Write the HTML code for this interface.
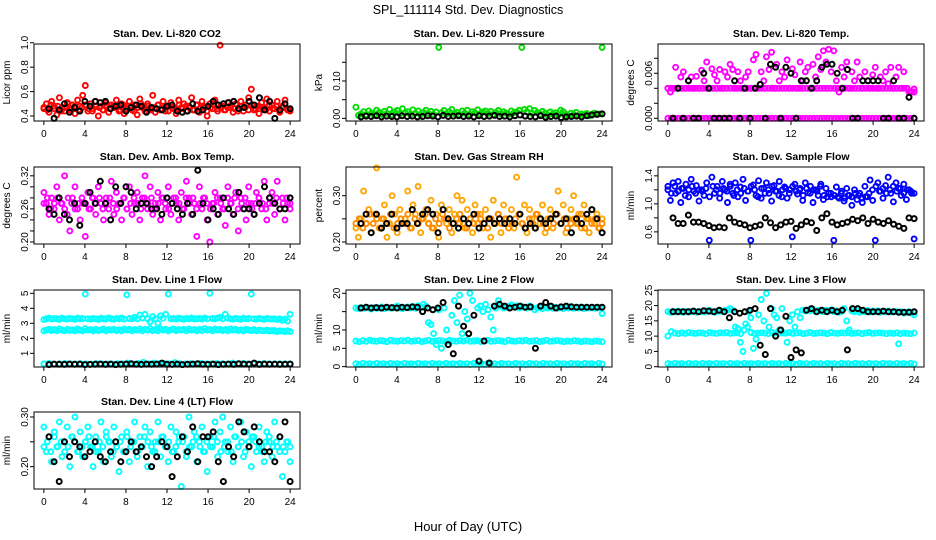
<!DOCTYPE html>
<html><head><meta charset="utf-8"><style>
html,body{margin:0;padding:0;background:#fff}
svg{display:block;font-family:"Liberation Sans",sans-serif}
</style></head><body>
<svg id="chart" width="936" height="540" viewBox="0 0 936 540" xmlns="http://www.w3.org/2000/svg">
<rect width="936" height="540" fill="#fff"/>
<text x="468" y="14" font-size="12.5" text-anchor="middle">SPL_111114  Std. Dev. Diagnostics</text>
<text x="468" y="531" font-size="13" text-anchor="middle">Hour of Day (UTC)</text>
</svg>
<script>
const hourTicks=[0,4,8,12,16,20,24];
const co2Red=[0.46,0.50,0.43,0.52,0.48,0.41,0.55,0.47,0.44,0.51,0.45,0.49,0.42,0.53,0.48,0.57,0.65,0.44,0.50,0.46,0.52,0.40,0.48,0.45,0.51,0.43,0.49,0.47,0.53,0.44,0.50,0.42,0.48,0.52,0.45,0.49,0.41,0.54,0.47,0.44,0.50,0.46,0.57,0.43,0.49,0.45,0.52,0.48,0.44,0.51,0.46,0.42,0.53,0.47,0.50,0.44,0.48,0.55,0.45,0.49,0.43,0.52,0.47,0.40,0.50,0.46,0.53,0.44,0.98,0.48,0.45,0.51,0.47,0.43,0.50,0.46,0.52,0.44,0.49,0.55,0.62,0.45,0.48,0.42,0.51,0.47,0.54,0.44,0.49,0.46,0.52,0.43,0.48,0.53,0.45,0.44];
const co2Red2=[0.47,0.45,0.49,0.46,0.48,0.44,0.47,0.50,0.46,0.48,0.45,0.47,0.49,0.46,0.44,0.48,0.47,0.45,0.49,0.46,0.48,0.47,0.45,0.49,0.46,0.48,0.44,0.47,0.50,0.46,0.48,0.45,0.47,0.49,0.46,0.44,0.48,0.47,0.45,0.49,0.46,0.48,0.47,0.45,0.49,0.46,0.48,0.44,0.47,0.50,0.46,0.48,0.45,0.47,0.49,0.46,0.44,0.48,0.47,0.45,0.49,0.46,0.48,0.47,0.45,0.49,0.46,0.48,0.44,0.47,0.46,0.45];
const co2Black=[0.46,0.38,0.45,0.50,0.43,0.47,0.44,0.52,0.48,0.52,0.51,0.52,0.46,0.48,0.49,0.44,0.47,0.49,0.48,0.43,0.47,0.46,0.45,0.48,0.49,0.44,0.43,0.44,0.50,0.44,0.45,0.48,0.52,0.49,0.50,0.51,0.52,0.46,0.47,0.52,0.49,0.55,0.45,0.52,0.38,0.45,0.50,0.46];
const pressGreen=[0.030,0.008,0.012,0.018,0.010,0.020,0.014,0.009,0.022,0.016,0.011,0.019,0.013,0.024,0.010,0.017,0.021,0.012,0.026,0.015,0.018,0.011,0.023,0.014,0.020,0.010,0.016,0.022,0.013,0.019,0.011,0.017,0.190,0.015,0.021,0.012,0.018,0.024,0.013,0.016,0.010,0.020,0.014,0.022,0.011,0.018,0.015,0.023,0.012,0.017,0.020,0.013,0.019,0.010,0.016,0.021,0.012,0.018,0.014,0.011,0.020,0.015,0.017,0.022,0.190,0.024,0.018,0.026,0.013,0.021,0.016,0.011,0.019,0.014,0.008,0.017,0.012,0.015,0.009,0.022,0.018,0.011,0.006,0.014,0.010,0.016,0.008,0.012,0.009,0.013,0.007,0.011,0.014,0.010,0.012,0.190];
const pressBlack=[0.004,0.006,0.005,0.007,0.004,0.006,0.005,0.004,0.007,0.005,0.006,0.004,0.005,0.007,0.006,0.004,0.008,0.005,0.006,0.007,0.005,0.006,0.004,0.007,0.005,0.006,0.008,0.005,0.006,0.004,0.007,0.009,0.006,0.005,0.004,0.007,0.003,0.005,0.006,0.002,0.004,0.005,0.006,0.004,0.007,0.009,0.011,0.012];
const tempHi=[0.004,0.0035,0.004,0.0068,0.004,0.0055,0.0062,0.004,0.005,0.0055,0.004,0.0056,0.004,0.0064,0.005,0.0075,0.004,0.0066,0.0058,0.005,0.0065,0.004,0.0062,0.0055,0.0072,0.0065,0.004,0.0062,0.005,0.004,0.0055,0.0062,0.004,0.0078,0.0085,0.004,0.0062,0.005,0.0082,0.0065,0.0088,0.004,0.0072,0.005,0.0062,0.0055,0.0078,0.004,0.0066,0.0058,0.004,0.0075,0.005,0.0062,0.0068,0.004,0.0072,0.0055,0.0082,0.0065,0.009,0.0075,0.0092,0.0062,0.009,0.005,0.0035,0.0068,0.0055,0.0075,0.004,0.0062,0.005,0.0075,0.0055,0.004,0.0062,0.005,0.004,0.0058,0.0068,0.004,0.0055,0.005,0.0062,0.0046,0.0068,0.004,0.0055,0.0068,0.004,0.0062,0.004,0.0035,0.0035,0.0039];
const tempMid=[0.004,0.004,0.004,0.004,0.004,0.004,0.004,0.004,0.004,0.004,0.004,0.004,0.004,0.004,0.004,0.004,0.004,0.004,0.004,0.004,0.004,0.004,0.004,0.004,0.004,0.004,0.004,0.004,0.004,0.004,0.004,0.004,0.004,0.004,0.004,0.004,0.004,0.004,0.004,0.004,0.004,0.004,0.004,0.004,0.004,0.004,0.004,0.004,0.004,0.004,0.004,0.004,0.004,0.004,0.004,0.004,0.004,0.004,0.004,0.004,0.004,0.004,0.004,0.004,0.004,0.004,0.004,0.004,0.004,0.004,0.0035,0.0035];
const tempLo=[0,0,0,0,0,0,0,0,0,0,0,0,0,0,0,0,0,0,0,0,0,0,0,0,0,0,0,0,0,0,0,0,0,0,0,0,0,0,0,0,0,0,0,0,0,0,0,0,0,0,0,0,0,0,0,0,0,0,0,0,0,0,0,0,0,0,0,0,0,0,0,0];
const tempBlack=[0,0.004,0,0.005,0,0,0.006,0.004,0,0,0,0,0.005,0,0.004,0,0.004,0.0045,0,0.0072,0.0068,0,0.0068,0.006,0,0.005,0.005,0.004,0.005,0.0068,0.0072,0.0072,0.006,0.004,0.0065,0,0,0.005,0.005,0.005,0.005,0,0,0.005,0,0,0.0028,0];
const ambMag=[0.29,0.27,0.25,0.28,0.26,0.30,0.24,0.27,0.32,0.25,0.22,0.28,0.30,0.26,0.24,0.27,0.21,0.29,0.26,0.28,0.25,0.30,0.27,0.24,0.28,0.26,0.31,0.25,0.29,0.27,0.24,0.28,0.26,0.30,0.25,0.27,0.29,0.24,0.28,0.32,0.26,0.30,0.25,0.27,0.29,0.24,0.28,0.26,0.30,0.25,0.28,0.27,0.24,0.29,0.26,0.31,0.28,0.25,0.27,0.21,0.30,0.26,0.28,0.24,0.20,0.27,0.29,0.25,0.28,0.26,0.23,0.30,0.27,0.25,0.29,0.22,0.28,0.26,0.24,0.30,0.27,0.25,0.29,0.28,0.26,0.31,0.24,0.27,0.29,0.25,0.31,0.26,0.28,0.24,0.27,0.26];
const ambMag2=[0.27,0.28,0.26,0.27,0.28,0.27,0.26,0.28,0.27,0.26,0.27,0.28,0.27,0.26,0.28,0.27,0.28,0.26,0.27,0.28,0.27,0.26,0.27,0.28,0.26,0.27,0.28,0.27,0.26,0.28,0.27,0.28,0.26,0.27,0.28,0.27,0.26,0.27,0.28,0.27,0.26,0.28,0.27,0.28,0.26,0.27,0.28,0.27,0.26,0.27,0.28,0.27,0.26,0.28,0.27,0.28,0.26,0.27,0.28,0.27,0.26,0.27,0.28,0.27,0.26,0.28,0.27,0.28,0.26,0.27,0.28,0.27];
const ambBlack=[0.26,0.25,0.28,0.25,0.24,0.27,0.23,0.27,0.29,0.27,0.31,0.27,0.24,0.30,0.27,0.30,0.29,0.26,0.27,0.27,0.26,0.26,0.25,0.28,0.27,0.26,0.25,0.27,0.25,0.33,0.27,0.24,0.26,0.25,0.28,0.26,0.25,0.29,0.26,0.26,0.25,0.27,0.30,0.28,0.27,0.26,0.26,0.28];
const rhOrange=[0.23,0.21,0.25,0.31,0.24,0.27,0.22,0.26,0.36,0.23,0.25,0.28,0.21,0.24,0.30,0.26,0.22,0.27,0.24,0.25,0.31,0.23,0.28,0.26,0.32,0.22,0.25,0.27,0.24,0.29,0.23,0.26,0.21,0.28,0.25,0.24,0.27,0.22,0.26,0.30,0.24,0.29,0.23,0.27,0.25,0.22,0.28,0.24,0.26,0.23,0.27,0.25,0.21,0.29,0.24,0.26,0.22,0.28,0.25,0.24,0.27,0.23,0.34,0.26,0.24,0.28,0.22,0.27,0.25,0.23,0.26,0.24,0.28,0.22,0.25,0.27,0.23,0.26,0.31,0.24,0.28,0.22,0.25,0.27,0.30,0.24,0.26,0.23,0.28,0.25,0.22,0.27,0.24,0.26,0.23,0.25];
const rhOrange2=[0.24,0.25,0.23,0.24,0.26,0.24,0.25,0.23,0.25,0.24,0.26,0.23,0.24,0.25,0.24,0.26,0.23,0.25,0.24,0.25,0.26,0.24,0.23,0.25,0.24,0.26,0.25,0.23,0.24,0.25,0.26,0.24,0.23,0.25,0.24,0.26,0.25,0.24,0.23,0.25,0.24,0.26,0.24,0.25,0.23,0.24,0.25,0.26,0.24,0.23,0.25,0.24,0.26,0.25,0.24,0.23,0.25,0.24,0.26,0.24,0.25,0.23,0.24,0.25,0.24,0.26,0.23,0.25,0.24,0.25,0.23,0.24];
const rhBlack=[0.24,0.26,0.22,0.26,0.23,0.24,0.26,0.23,0.24,0.24,0.27,0.24,0.26,0.27,0.26,0.22,0.27,0.25,0.24,0.23,0.25,0.24,0.26,0.23,0.24,0.25,0.24,0.25,0.24,0.25,0.24,0.26,0.23,0.24,0.23,0.25,0.24,0.25,0.26,0.24,0.25,0.22,0.25,0.24,0.26,0.27,0.25,0.22];
const flowBlue=[1.25,1.05,1.30,1.15,1.32,1.02,1.22,1.28,1.10,1.35,1.18,1.26,1.04,1.20,1.12,1.30,0.48,1.38,1.15,1.25,1.08,1.32,1.20,1.02,1.28,1.15,1.30,1.10,1.24,1.35,1.05,1.18,0.48,1.27,1.12,1.33,1.08,1.22,1.30,1.15,1.04,1.26,1.18,1.32,1.10,1.24,1.08,1.20,0.53,1.28,1.14,1.22,1.05,1.30,1.16,1.25,1.02,1.20,1.12,1.28,1.06,1.22,1.15,1.10,0.48,1.24,1.08,1.18,1.04,1.22,1.12,0.98,1.20,1.06,1.15,1.02,1.25,1.10,1.34,1.05,0.48,1.30,1.18,1.08,1.26,1.38,1.15,1.03,1.30,1.22,1.12,1.28,1.06,1.20,1.15,0.50];
const flowBlue2=[1.2,1.15,1.25,1.18,1.22,1.12,1.2,1.25,1.15,1.2,1.18,1.22,1.1,1.25,1.2,1.15,1.22,1.18,1.25,1.12,1.2,1.15,1.22,1.18,1.25,1.2,1.1,1.22,1.15,1.2,1.25,1.18,1.12,1.2,1.22,1.15,1.25,1.18,1.2,1.12,1.22,1.15,1.2,1.18,1.25,1.12,1.1,1.15,1.12,1.1,1.15,1.08,1.12,1.1,1.15,1.12,1.08,1.1,1.15,1.2,1.25,1.18,1.22,1.15,1.2,1.25,1.18,1.22,1.15,1.2,1.18,1.15];
const flowBlack=[0.80,0.72,0.72,0.84,0.74,0.74,0.72,0.69,0.66,0.67,0.66,0.80,0.74,0.72,0.70,0.66,0.68,0.70,0.80,0.73,0.66,0.70,0.74,0.75,0.65,0.70,0.75,0.73,0.62,0.80,0.86,0.74,0.70,0.72,0.74,0.78,0.76,0.80,0.72,0.78,0.74,0.72,0.76,0.71,0.68,0.65,0.80,0.79];
const l1Top=[3.25,3.3,3.35,3.28,3.32,3.3,3.26,3.34,3.3,3.28,3.33,3.3,3.27,3.35,3.3,3.32,4.95,3.3,3.28,3.33,3.3,3.26,3.34,3.3,3.29,3.36,3.3,3.27,3.33,3.3,3.35,3.28,4.9,3.32,3.3,3.4,3.3,3.55,3.35,3.6,3.3,3.1,3.45,3.3,3.0,3.5,3.35,3.6,4.95,3.3,3.32,3.28,3.35,3.3,3.27,3.33,3.3,3.36,3.29,3.3,3.32,3.28,3.35,3.3,5.0,3.32,3.3,3.35,3.4,3.3,3.6,3.35,3.3,3.28,3.33,3.3,3.27,3.34,3.3,3.32,4.95,3.3,3.28,3.33,3.3,3.26,3.32,3.3,3.28,3.3,3.25,3.3,3.2,3.28,3.15,3.6];
const l1Mid=[2.5,2.55,2.6,2.52,2.58,2.5,2.62,2.55,2.5,2.6,2.53,2.57,2.5,2.62,2.55,2.5,2.65,2.55,2.58,2.5,2.6,2.52,2.56,2.62,2.5,2.58,2.55,2.6,2.52,2.57,2.5,2.62,2.55,2.6,2.5,2.58,2.54,2.62,2.5,2.6,2.55,2.65,2.52,2.58,2.5,2.62,2.55,2.6,2.5,2.57,2.62,2.52,2.58,2.55,2.6,2.5,2.62,2.55,2.58,2.5,2.6,2.52,2.65,2.55,2.58,2.5,2.62,2.55,2.6,2.52,2.58,2.5,2.62,2.55,2.6,2.52,2.57,2.5,2.6,2.55,2.52,2.58,2.5,2.55,2.52,2.5,2.55,2.48,2.52,2.5,2.45,2.5,2.48,2.45,2.5,2.45];
const l1Low=[0.3,0.32,0.28,0.3,0.33,0.3,0.29,0.31,0.3,0.28,0.32,0.3,0.3,0.29,0.31,0.3,0.35,0.3,0.32,0.4,0.3,0.35,0.3,0.32,0.3,0.38,0.3,0.29,0.31,0.3,0.32,0.3,0.3,0.33,0.3,0.29,0.35,0.3,0.32,0.3,0.31,0.3,0.33,0.3,0.29,0.31,0.3,0.3];
const l1Black=[0.25,0.28,0.27,0.26,0.28,0.27,0.28,0.25,0.26,0.27,0.28,0.26,0.28,0.25,0.27,0.28,0.3,0.27,0.26,0.28,0.27,0.28,0.35,0.27,0.26,0.28,0.25,0.27,0.28,0.3,0.27,0.26,0.28,0.25,0.27,0.28,0.26,0.3,0.28,0.27,0.35,0.26,0.28,0.27,0.28,0.26,0.27,0.28];
const l2Top=[16,15.8,16.1,15.9,16.2,16,15.7,16.1,15.9,16,16.3,15.8,16.1,16,15.9,16.2,16.5,16,15.8,16.1,16.3,16,16.4,15.9,16.6,16.2,17,16.5,12,11.5,9,6,15.5,5,16,10,7,14,18,12,19.5,9,15,13,20,18,7,16,16.5,15,17,15.5,13.5,10,16,18,16.5,16,16.2,16.5,16.8,16.3,16.6,16,16.4,16.2,16,16.5,16.2,15.5,16,16.3,15.8,16.1,16,16.4,15.9,16.2,16,16.3,15.8,16.1,16,16.4,15.9,16.2,16,16.3,15.8,16.1,16,16.2,15.9,16,16.1,14.5];
const l2Mid=[7,6.8,7.1,6.9,7.2,7,6.9,7.1,7,6.8,7.2,7,6.9,7.1,7,7.2,6.9,7,7.1,6.8,7,7.2,6.9,7,7.1,7,6.8,7.2,7,6.9,7.1,7,7.2,6.9,7,7.1,6.8,7,7.2,6.9,7,7.1,7,6.8,7.2,7,6.9,7.1,7,7.2,6.9,7,7.1,6.8,7,7.2,6.9,7,7.1,7,6.8,7,6.9,7.1,7,6.8,7,6.9,6.8,7,6.9,6.8];
const l2Low=[0.8,0.6,0.9,0.7,0.8,0.6,0.9,0.7,0.8,0.6,0.9,0.7,0.8,0.6,0.9,0.7,0.8,0.6,0.9,0.7,0.8,0.6,0.9,0.7,0.8,0.6,0.9,0.7,0.8,0.6,0.9,0.7,0.8,0.6,0.9,0.7,0.8,0.6,0.9,0.7,0.8,0.6,0.9,0.7,0.8,0.6,0.9,0.7,0.8,0.6,0.9,0.7,0.8,0.6,0.9,0.7,0.8,0.6,0.9,0.7,0.8,0.6,0.9,0.7,0.8,0.6,0.9,0.7,0.8,0.6,0.9,0.7];
const l2Black=[16,16.2,16,16.1,16,16.2,16.1,16,16.2,16.1,16.3,16.2,15,16,15.5,16,17.5,6,3.5,16.5,11,9,14,1.5,7,1,16.5,17,16.5,16,16.2,16.5,16.2,16.3,5,16.5,17.5,16.5,16,16.3,16.5,16.3,16.2,16.2,16.2,16.2,16.2,16.2];
const l3Top=[18,17.8,18.1,17.9,18.2,18,17.8,18.1,17.9,18,18.2,17.8,18.1,18,17.9,18.2,18.5,18,17.8,18.1,18.3,18,18.4,18.6,19,18.5,13,12.5,8,5,14,18,16,6,9,17,22,15,24,13,19,17,16,12,19,11,8,15,17,13,18,16,18.5,18.2,18.6,18.3,18.8,18,18.4,18.2,18,18.5,18.2,18.6,18,18.3,17.8,18.1,19,15,12,18.2,18,18.3,17.8,18.1,18,18.4,17.9,18.2,18,18.3,17.8,18.1,18,18.2,17.9,18,18.1,7.5,18,17.5,17.8,18,17.5,17];
const l3Mid=[10,11.5,11,10.8,11.1,10.9,11.2,11,10.9,11.1,11,10.8,11.2,11,10.9,11.1,11,11.2,10.9,11,11.1,10.8,12,13,11.2,10.9,11,11.1,11,10.8,11.2,11,10.9,11.1,11,11.2,10.9,11,11.1,10.8,11,11.2,10.9,11,11.1,11,10.8,11.2,11,10.9,11.1,11,11.2,10.9,11,11.1,10.8,11,11.2,10.9,11,11.1,11,10.8,11,10.9,11.1,10.8,11,10.9,10.8,11];
const l3Low=[1,0.8,1.1,0.9,1,0.8,1.1,0.9,1,0.8,1.1,0.9,1,0.8,1.1,0.9,1,0.8,1.1,0.9,1,0.8,1.1,0.9,1,0.8,1.1,0.9,1,0.8,1.1,0.9,1,0.8,1.1,0.9,1,0.8,1.1,0.9,1,0.8,1.1,0.9,1,0.8,1.1,0.9,1,0.8,1.1,0.9,1,0.8,1.1,0.9,1,0.8,1.1,0.9,1,0.8,1.1,0.9,1,0.8,1.1,0.9,1,0.8,1.1,0.9];
const l3Black=[18,18,18,18,18.2,18,18.3,18.2,18,18.5,18,16,18,17.5,18,18.5,19,7,4,19,10,12,16.5,3,5.5,4.5,18.5,19,18,18.5,18,18.5,18,18.5,5.5,19,19,18.5,18,18,18,18.2,18,18,17.8,17.8,17.8,18];
const l4Cyan=[0.28,0.23,0.26,0.21,0.27,0.24,0.29,0.22,0.25,0.28,0.20,0.26,0.30,0.23,0.27,0.22,0.25,0.28,0.24,0.20,0.26,0.23,0.29,0.21,0.27,0.25,0.22,0.28,0.24,0.19,0.26,0.23,0.27,0.21,0.25,0.29,0.22,0.26,0.24,0.28,0.20,0.27,0.23,0.25,0.29,0.22,0.26,0.24,0.21,0.28,0.23,0.27,0.25,0.16,0.26,0.22,0.30,0.24,0.27,0.21,0.25,0.28,0.23,0.19,0.26,0.24,0.29,0.22,0.27,0.30,0.25,0.23,0.28,0.21,0.26,0.24,0.29,0.22,0.27,0.25,0.20,0.26,0.23,0.28,0.24,0.21,0.27,0.25,0.22,0.29,0.24,0.26,0.18,0.23,0.25,0.21];
const l4Cyan2=[0.24,0.25,0.23,0.26,0.24,0.25,0.23,0.24,0.26,0.25,0.23,0.24,0.25,0.26,0.24,0.23,0.25,0.24,0.26,0.25,0.23,0.24,0.25,0.23,0.26,0.24,0.25,0.23,0.24,0.26,0.25,0.24,0.23,0.25,0.26,0.24,0.25,0.23,0.24,0.26,0.25,0.23,0.24,0.25,0.26,0.24,0.23,0.25,0.24,0.26,0.25,0.23,0.24,0.25,0.23,0.26,0.24,0.25,0.23,0.24,0.26,0.25,0.24,0.23,0.25,0.26,0.24,0.25,0.23,0.24,0.25,0.24];
const l4Black=[0.26,0.21,0.17,0.25,0.22,0.25,0.24,0.22,0.23,0.25,0.22,0.21,0.23,0.25,0.21,0.23,0.25,0.23,0.24,0.22,0.20,0.22,0.25,0.24,0.18,0.22,0.26,0.23,0.28,0.21,0.26,0.26,0.27,0.21,0.17,0.24,0.22,0.29,0.27,0.24,0.28,0.25,0.23,0.23,0.21,0.26,0.29,0.17];

const NS='http://www.w3.org/2000/svg';
const svg=document.getElementById('chart');
function mk(tag,attrs,parent){const e=document.createElementNS(NS,tag);for(const k in attrs)e.setAttribute(k,attrs[k]);(parent||svg).appendChild(e);return e;}
const colX=[34,346,658], rowY=[44,167,290,412], BW=266, BH=77;

const panels=[
 {id:'co2',title:'Stan. Dev. Li-820 CO2',ylab:'Licor ppm',c:0,r:0,dom:[0.359,0.99],ticks:[0.4,0.6,0.8,1.0],labels:['0.4','0.6','0.8','1.0'],series:[[co2Red,'#ff0000'],[co2Red2,'#ff0000'],[co2Black,'#000']]},
 {id:'pressure',title:'Stan. Dev. Li-820 Pressure',ylab:'kPa',c:1,r:0,dom:[-0.007,0.199],ticks:[0,0.05,0.1,0.15],labels:['0.00','','0.10',''],series:[[pressGreen,'#00dd00'],[pressBlack,'#000']]},
 {id:'temp',title:'Stan. Dev. Li-820 Temp.',ylab:'degrees C',c:2,r:0,dom:[-0.00036,0.0099],ticks:[0,0.002,0.004,0.006,0.008],labels:['0.000','','','0.006',''],series:[[tempLo,'#ff00ff'],[tempMid,'#ff00ff'],[tempHi,'#ff00ff'],[tempBlack,'#000']]},
 {id:'ambbox',title:'Stan. Dev. Amb. Box Temp.',ylab:'degrees C',c:0,r:1,dom:[0.1963,0.336],ticks:[0.20,0.22,0.24,0.26,0.28,0.30,0.32],labels:['0.20','','','0.26','','','0.32'],series:[[ambMag,'#ff00ff'],[ambMag2,'#ff00ff'],[ambBlack,'#000']]},
 {id:'rh',title:'Stan. Dev. Gas Stream RH',ylab:'percent',c:1,r:1,dom:[0.1956,0.362],ticks:[0.20,0.25,0.30],labels:['0.20','','0.30'],series:[[rhOrange,'#ffa500'],[rhOrange2,'#ff8c00'],[rhBlack,'#000']]},
 {id:'sampleflow',title:'Stan. Dev. Sample Flow',ylab:'ml/min',c:2,r:1,dom:[0.427,1.526],ticks:[0.6,0.8,1.0,1.2,1.4],labels:['0.6','','1.0','','1.4'],series:[[flowBlue,'#0000ff'],[flowBlue2,'#0000ff'],[flowBlack,'#000']]},
 {id:'line1',title:'Stan. Dev. Line 1 Flow',ylab:'ml/min',c:0,r:2,dom:[0.09,5.22],ticks:[1,2,3,4,5],labels:['1','2','3','4','5'],series:[[l1Top,'#00ffff'],[l1Mid,'#00ffff'],[l1Low,'#00ffff'],[l1Black,'#000']]},
 {id:'line2',title:'Stan. Dev. Line 2 Flow',ylab:'ml/min',c:1,r:2,dom:[-0.1,20.9],ticks:[0,5,10,15,20],labels:['0','5','10','','20'],series:[[l2Top,'#00ffff'],[l2Mid,'#00ffff'],[l2Low,'#00ffff'],[l2Black,'#000']]},
 {id:'line3',title:'Stan. Dev. Line 3 Flow',ylab:'ml/min',c:2,r:2,dom:[-0.1,25.1],ticks:[0,5,10,15,20,25],labels:['0','5','10','15','20','25'],series:[[l3Top,'#00ffff'],[l3Mid,'#00ffff'],[l3Low,'#00ffff'],[l3Black,'#000']]},
 {id:'line4',title:'Stan. Dev. Line 4 (LT) Flow',ylab:'ml/min',c:0,r:3,dom:[0.155,0.31],ticks:[0.20,0.25,0.30],labels:['0.20','','0.30'],series:[[l4Cyan,'#00ffff'],[l4Cyan2,'#00ffff'],[l4Black,'#000']]}
];

panels.forEach(p=>{
  const L=colX[p.c], T=rowY[p.r], B=T+BH;
  const g=mk('g',{});
  
  
  const xs=h=>L+(h+0.96)/25.92*BW;
  const ys=v=>B-(v-p.dom[0])/(p.dom[1]-p.dom[0])*BH;
  const t=mk('text',{x:L+BW/2,y:T-7,'font-size':10.5,'font-weight':'bold','text-anchor':'middle'},g);
  t.textContent=p.title;
  
  
  p.series.forEach(([vals,col])=>{
    const isBlack=col==='#000';
    const sg=mk('g',{fill:'none',stroke:col,'stroke-width':isBlack?2:1.9},g);
    
    
    const n=vals.length;
    vals.forEach((v,i)=>{
      const h=isBlack?(i+1)*24/n:i*24/(n-1);
      const c=mk('circle',{cx:xs(h).toFixed(1),cy:ys(v).toFixed(1),r:2.5},sg);
      
      
    });
  });
  const box=mk('rect',{x:L,y:T,width:BW,height:BH,fill:'none',stroke:'#000','stroke-width':1},g);
  
  
  const xa=mk('g',{stroke:'#000','stroke-width':1},g);
  
  
  hourTicks.forEach(h=>{
    mk('line',{x1:xs(h),x2:xs(h),y1:B,y2:B+4},xa);
    const tl=mk('text',{x:xs(h),y:B+16,'font-size':10,'text-anchor':'middle',stroke:'none',fill:'#000'},g);
    tl.textContent=h;
    
    
  });
  const ya=mk('g',{stroke:'#000','stroke-width':1},g);
  
  
  p.ticks.forEach((v,i)=>{
    const y=ys(v);
    mk('line',{x1:L-4,x2:L,y1:y,y2:y},ya);
    if(p.labels[i]){
      const tl=mk('text',{x:L-6,y:y,'font-size':10,'text-anchor':'middle',transform:`rotate(-90 ${L-6} ${y})`},g);
      tl.textContent=p.labels[i];
      
      
    }
  });
  const yt=mk('text',{x:L-24,y:T+BH/2,'font-size':10,'text-anchor':'middle',transform:`rotate(-90 ${L-24} ${T+BH/2})`},g);
  yt.textContent=p.ylab;
  
  
});
</script>
</body></html>
